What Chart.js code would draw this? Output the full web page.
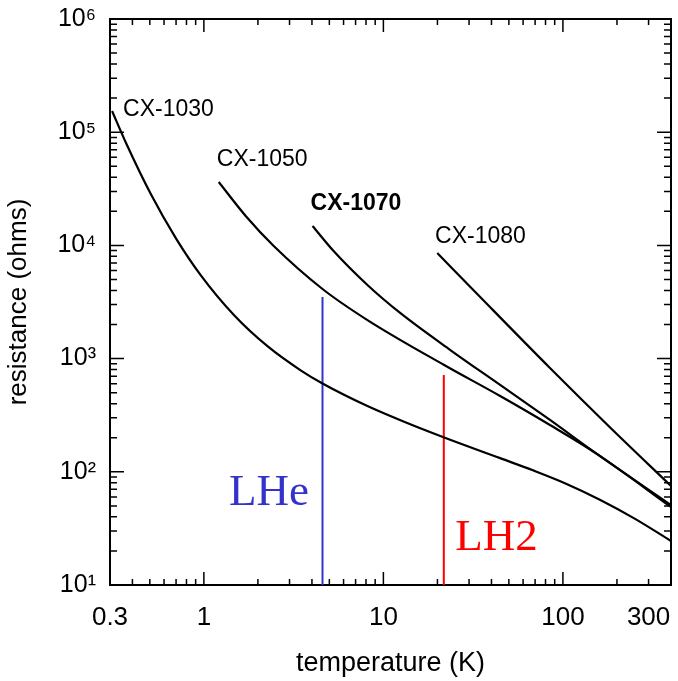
<!DOCTYPE html>
<html>
<head>
<meta charset="utf-8">
<script src="https://cdn.jsdelivr.net/npm/chart.js@4.4.0/dist/chart.umd.min.js"></script>
<style>
  html, body { margin: 0; padding: 0; background: #fff; }
</style>
</head>
<body>
<canvas id="grafico" width="678" height="681"></canvas>
<script>
// curvas (temperatura em K, resistencia em ohms)
const tempCX1030 = [0.308, 0.369, 0.508, 0.699, 0.962, 1.47, 2.27, 3.46, 4.58, 8.15, 13.25, 21.8, 44.7, 68.1, 102.6, 160.6, 251, 400];
const ohmCX1030  = [153900, 79900, 28150, 11550, 5440, 2430, 1280, 788, 603, 381, 274, 201, 132, 103, 79.3, 56.7, 38.6, 24.5];

const tempCX1050 = [1.21, 1.71, 2.45, 4.58, 8.15, 21.8, 44.7, 84.7, 154.5, 400];
const ohmCX1050  = [36300, 18200, 9880, 4120, 2190, 878, 467, 259, 144, 48.9];

const tempCX1070 = [4.03, 5.28, 8.15, 12.4, 23.6, 44.7, 84.7, 154.5, 400];
const ohmCX1070  = [14840, 8920, 4470, 2530, 1190, 585, 287, 144, 50.9];

const tempCX1080 = [19.95, 34.6, 84.7, 182, 400];
const ohmCX1080  = [8570, 3500, 826, 249, 75];

// linhas verticais: LHe e LH2
const tempLHe = 4.58;
const topoLHe = 3500;
const tempLH2 = 21.7;
const topoLH2 = 716;

// rotulos das curvas (posicao em coordenadas de dados)
const nomesCurvas = ['CX-1030', 'CX-1050', 'CX-1070', 'CX-1080'];
const nomesT = [0.355, 1.18, 3.93, 19.4];
const nomesR = [157000, 56800, 23200, 11900];

const xLabels = [0.3, 1, 10, 100, 300];
const yMin = 10, yMax = 1e6;
const xMin = 0.3, xMax = 400;

const fonte = "'Liberation Sans', Arial, Helvetica, sans-serif";
const sup = { 1: '\u00B9', 2: '\u00B2', 3: '\u00B3', 4: '\u2074', 5: '\u2075', 6: '\u2076' };

// ticks menores do eixo log
function ticksLog(min, max) {
  const out = [];
  for (let e = -1; e <= 6; e++) {
    for (let k = 1; k <= 9; k++) {
      const v = e < 0 ? k / 10 : k * Math.pow(10, e);
      if (v >= min - 1e-9 && v <= max + 1e-9) out.push(v);
    }
  }
  return out;
}

function ehDecada(v) {
  const l = Math.log10(v);
  return Math.abs(l - Math.round(l)) < 1e-9;
}

function pontos(ts, rs) {
  return ts.map((t, i) => ({ x: t, y: rs[i] }));
}

const molduraPlugin = {
  id: 'moldura',
  beforeDatasetsDraw(chart) {
    const { ctx, chartArea: a, scales: { x, y } } = chart;
    ctx.save();
    ctx.strokeStyle = '#000';
    ctx.lineWidth = 2;
    ctx.strokeRect(a.left, a.top, a.right - a.left, a.bottom - a.top);
    ctx.lineWidth = 1.5;
    ctx.beginPath();
    x.ticks.forEach(t => {
      const px = x.getPixelForValue(t.value);
      const len = ehDecada(t.value) ? 13 : 6;
      ctx.moveTo(px, a.bottom); ctx.lineTo(px, a.bottom - len);
      ctx.moveTo(px, a.top); ctx.lineTo(px, a.top + len);
    });
    y.ticks.forEach(t => {
      const py = y.getPixelForValue(t.value);
      const len = ehDecada(t.value) ? 14 : 7;
      ctx.moveTo(a.left, py); ctx.lineTo(a.left + len, py);
      ctx.moveTo(a.right, py); ctx.lineTo(a.right - len, py);
    });
    ctx.stroke();
    ctx.restore();
  },
  afterDatasetsDraw(chart) {
    const { ctx, scales: { x, y } } = chart;
    ctx.save();
    ctx.fillStyle = '#000';
    ctx.textBaseline = 'middle';
    ctx.textAlign = 'left';
    nomesCurvas.forEach((n, i) => {
      ctx.font = (n === 'CX-1070' ? 'bold ' : '') + '23px ' + fonte;
      ctx.fillText(n, x.getPixelForValue(nomesT[i]), y.getPixelForValue(nomesR[i]));
    });
    ctx.textBaseline = 'alphabetic';
    ctx.font = "45px 'Liberation Serif', 'Times New Roman', serif";
    ctx.fillStyle = '#3333cc';
    ctx.fillText('LHe', x.getPixelForValue(1.38), y.getPixelForValue(51));
    ctx.fillStyle = '#ff0000';
    ctx.fillText('LH2', x.getPixelForValue(25.1), y.getPixelForValue(20.4));
    ctx.restore();
  }
};

const curva = (ts, rs) => ({
  data: pontos(ts, rs),
  borderColor: '#000',
  borderWidth: 2.2,
  pointRadius: 0,
  fill: false,
  cubicInterpolationMode: 'monotone'
});

new Chart(document.getElementById('grafico'), {
  type: 'line',
  data: {
    datasets: [
      curva(tempCX1030, ohmCX1030),
      curva(tempCX1050, ohmCX1050),
      curva(tempCX1070, ohmCX1070),
      curva(tempCX1080, ohmCX1080),
      { data: [{ x: tempLHe, y: yMin }, { x: tempLHe, y: topoLHe }], borderColor: '#3333cc', borderWidth: 2, pointRadius: 0 },
      { data: [{ x: tempLH2, y: yMin }, { x: tempLH2, y: topoLH2 }], borderColor: '#ff0000', borderWidth: 2, pointRadius: 0 }
    ]
  },
  options: {
    responsive: false,
    animation: false,
    devicePixelRatio: 1,
    layout: { padding: { top: 19, right: 7, bottom: 0, left: 0 } },
    plugins: { legend: { display: false }, tooltip: { enabled: false } },
    scales: {
      x: {
        type: 'logarithmic',
        min: xMin,
        max: xMax,
        afterBuildTicks: s => { s.ticks = ticksLog(xMin, xMax).map(v => ({ value: v })); },
        afterFit: s => { s.height = 96; },
        grid: { drawOnChartArea: false, drawTicks: true, tickLength: 17, tickColor: 'rgba(0,0,0,0)' },
        border: { display: true, color: '#000', width: 2 },
        ticks: {
          autoSkip: false,
          maxRotation: 0,
          padding: 0,
          color: '#000',
          font: { size: 26, family: fonte },
          callback: v => xLabels.includes(v) ? String(v) : ''
        },
        title: {
          display: true,
          text: 'temperature (K)',
          color: '#000',
          font: { size: 27, family: fonte },
          padding: { top: 0, bottom: 1 }
        }
      },
      y: {
        type: 'logarithmic',
        min: yMin,
        max: yMax,
        afterBuildTicks: s => { s.ticks = ticksLog(yMin, yMax).map(v => ({ value: v })); },
        afterFit: s => { s.width = 110; },
        grid: { drawOnChartArea: false, drawTicks: true, tickLength: 14, tickColor: 'rgba(0,0,0,0)' },
        border: { display: true, color: '#000', width: 2 },
        ticks: {
          autoSkip: false,
          padding: 0,
          color: '#000',
          font: { size: 25, family: fonte },
          callback: v => ehDecada(v) ? '10' + sup[Math.round(Math.log10(v))] : ''
        },
        title: {
          display: true,
          text: 'resistance (ohms)',
          color: '#000',
          font: { size: 26, family: fonte },
          padding: { top: 3, bottom: 0 }
        }
      }
    }
  },
  plugins: [molduraPlugin]
});
</script>
</body>
</html>
